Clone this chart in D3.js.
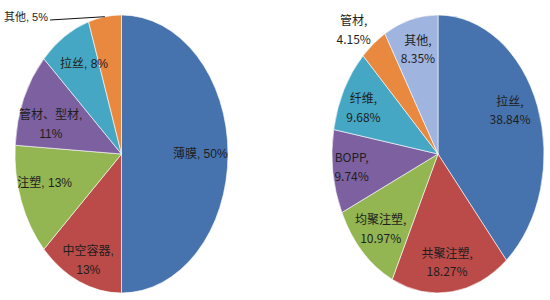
<!DOCTYPE html>
<html>
<head>
<meta charset="utf-8">
<script src="https://cdn.jsdelivr.net/npm/d3@7"></script>
<style>
  body { margin: 0; background: #fff; }
  svg text { fill: #1e1e1e; }
</style>
</head>
<body>
<div id="chart"></div>
<script>
// left pie - share by application
var leftNames = ["薄膜", "中空容器", "注塑", "管材、型材", "拉丝", "其他"];
var leftValues = [50, 13, 13, 11, 8, 5];
var leftPct = ["50%", "13%", "13%", "11%", "8%", "5%"];

// right pie
var rightNames = ["拉丝", "共聚注塑", "均聚注塑", "BOPP", "纤维", "管材", "其他"];
var rightValues = [38.84, 18.27, 10.97, 9.74, 9.68, 4.15, 8.35];
var rightPct = ["38.84%", "18.27%", "10.97%", "9.74%", "9.68%", "4.15%", "8.35%"];

var colours = ["#4673ae", "#bb4b48", "#93b652", "#7d60a0", "#45a7c3", "#e9883f", "#9fb4de"];

var WD = 550, HT = 300;
var svg = d3.select("#chart").append("svg")
    .attr("width", WD)
    .attr("height", HT);

var pie = d3.pie().sort(null).value(function(d) { return d.value; });
var arc = d3.arc().innerRadius(0).outerRadius(1);

// label placement: [angle shift in degrees, radius factor]; null = outside label
var leftLayout = [[0, 0.74], [-1, 0.82], [4, 0.75], [-5, 0.7], [4, 0.74], null];
var rightLayout = [[-5, 0.75], [1, 0.78], [0, 0.76], [1, 0.82], [-2, 0.78], [-4, 1.2], [1, 0.78]];

function drawPie(opts) {
  var data = opts.names.map(function(n, i) {
    return { name: n, value: opts.values[i], pct: opts.pct[i] };
  });
  var arcs = pie(data);
  var g = svg.append("g").attr("transform", "translate(" + opts.cx + "," + opts.cy + ")");

  g.append("g")
    .attr("transform", "scale(" + opts.rx + "," + opts.ry + ")")
    .selectAll("path")
    .data(arcs)
    .enter()
    .append("path")
      .attr("d", arc)
      .attr("fill", function(d, i) { return colours[i]; })
      .attr("stroke", "#fff")
      .attr("stroke-width", 0.6)
      .attr("vector-effect", "non-scaling-stroke");

  function pos(a, k) {
    return [Math.sin(a) * opts.rx * k, -Math.cos(a) * opts.ry * k];
  }

  var lab = g.append("g")
    .attr("font-family", opts.font)
    .attr("font-size", opts.size)
    .attr("text-anchor", "middle");

  arcs.forEach(function(d, i) {
    var lay = opts.layout[i];
    var mid = (d.startAngle + d.endAngle) / 2;
    if (lay === null) {
      // outside label with leader line
      var p = pos(mid, 1);
      var tx = opts.outX - opts.cx, ty = opts.outY - opts.cy;
      var t = lab.append("text")
        .attr("x", tx).attr("y", ty + 4)
        .attr("text-anchor", "start")
        .attr("font-size", opts.size - 1)
        .text(d.data.name + ", " + d.data.pct);
      var w = t.node().getComputedTextLength();
      g.append("line")
        .attr("x1", tx + w + 2).attr("y1", ty + 3)
        .attr("x2", p[0]).attr("y2", p[1])
        .attr("stroke", "#111").attr("stroke-width", 1);
      return;
    }
    var a = mid + lay[0] * Math.PI / 180;
    var p = pos(a, lay[1]);
    var t = lab.append("text").attr("x", p[0]).attr("y", p[1]);
    if (opts.twoLine(d.data.name)) {
      t.append("tspan").attr("x", p[0]).attr("dy", "-0.35em").text(d.data.name + ",");
      t.append("tspan").attr("x", p[0]).attr("dy", "1.55em").text(d.data.pct);
    } else {
      t.attr("dy", "0.35em").text(d.data.name + ", " + d.data.pct);
    }
  });
}

drawPie({
  names: leftNames, values: leftValues, pct: leftPct,
  cx: 121.5, cy: 154, rx: 106.5, ry: 139,
  layout: leftLayout,
  font: "'Liberation Sans', 'Noto Sans CJK SC', sans-serif", size: 12,
  outX: 4, outY: 17,
  twoLine: function(n) { return n === "管材、型材" || n === "中空容器"; }
});

drawPie({
  names: rightNames, values: rightValues, pct: rightPct,
  cx: 438, cy: 154, rx: 106, ry: 139,
  layout: rightLayout,
  font: "'Noto Sans CJK SC', sans-serif", size: 12,
  twoLine: function() { return true; }
});
</script>
</body>
</html>
